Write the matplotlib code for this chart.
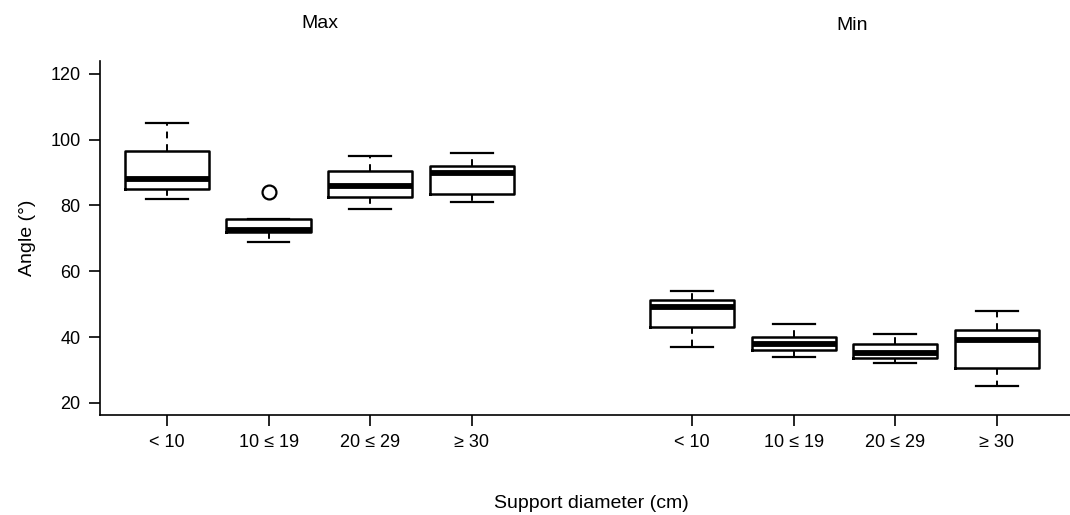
import matplotlib
matplotlib.use("Agg")
import matplotlib.pyplot as plt

plt.rcParams['font.family'] = ['Liberation Sans', 'DejaVu Sans']

categories = ["< 10", "10 ≤ 19", "20 ≤ 29", "≥ 30"]
groups = ["Max", "Min"]

# Max angles
max_whislo = [82, 69, 79, 81]
max_q1     = [85, 72, 82.6, 83.5]
max_med    = [88, 72.5, 86, 90]
max_q3     = [96.6, 76, 90.6, 92]
max_whishi = [105, 76, 95, 96]
max_fliers = [[], [84], [], []]

# Min angles
min_whislo = [37, 34, 32, 25]
min_q1     = [43, 36, 33.5, 30.5]
min_med    = [49, 38, 35, 39]
min_q3     = [51.4, 40, 38, 42]
min_whishi = [54, 44, 41, 48]
min_fliers = [[], [], [], []]

max_pos = [1, 2, 3, 4]
min_pos = [6.17, 7.17, 8.17, 9.17]

def make_stats(lo, q1, med, q3, hi, fl):
    return [dict(whislo=a, q1=b, med=c, q3=d, whishi=e, fliers=f)
            for a, b, c, d, e, f in zip(lo, q1, med, q3, hi, fl)]

fig = plt.figure(figsize=(10.7, 5.15), dpi=100)
ax = fig.add_axes([100/1070, 1-415/515, 1-100/1070, (415-60.7)/515])

common = dict(
    widths=0.83,
    showfliers=True,
    boxprops=dict(color='black', linewidth=1.8),
    medianprops=dict(color='black', linewidth=4.2, solid_capstyle='butt'),
    whiskerprops=dict(color='black', linewidth=1.4, linestyle=(0, (3.5, 3))),
    capprops=dict(color='black', linewidth=1.6),
    flierprops=dict(marker='o', markerfacecolor='white', markeredgecolor='black',
                    markersize=10, markeredgewidth=1.6, linestyle='none'),
    capwidths=0.41,
)

ax.bxp(make_stats(max_whislo, max_q1, max_med, max_q3, max_whishi, max_fliers),
       positions=max_pos, **common)
ax.bxp(make_stats(min_whislo, min_q1, min_med, min_q3, min_whishi, min_fliers),
       positions=min_pos, **common)

ax.set_xlim(0.34, 9.89)
ax.set_ylim(16.3, 124)
ax.set_yticks([20, 40, 60, 80, 100, 120])
ax.set_xticks(max_pos + min_pos)
ax.set_xticklabels(categories + categories)

for s in ['top', 'right']:
    ax.spines[s].set_visible(False)
for s in ['left', 'bottom']:
    ax.spines[s].set_linewidth(1.2)

ax.tick_params(axis='both', direction='out', length=8, width=1.2, labelsize=13, pad=6)
ax.set_ylabel("Angle (°)", fontsize=14, labelpad=10)

fig.text(320/1070, 1-23/515, groups[0], ha='center', va='center', fontsize=14)
fig.text(852/1070, 1-25/515, groups[1], ha='center', va='center', fontsize=14)
fig.text(591/1070, 1-503/515, "Support diameter (cm)", ha='center', va='center', fontsize=14)

fig.savefig("out.png", dpi=100)
